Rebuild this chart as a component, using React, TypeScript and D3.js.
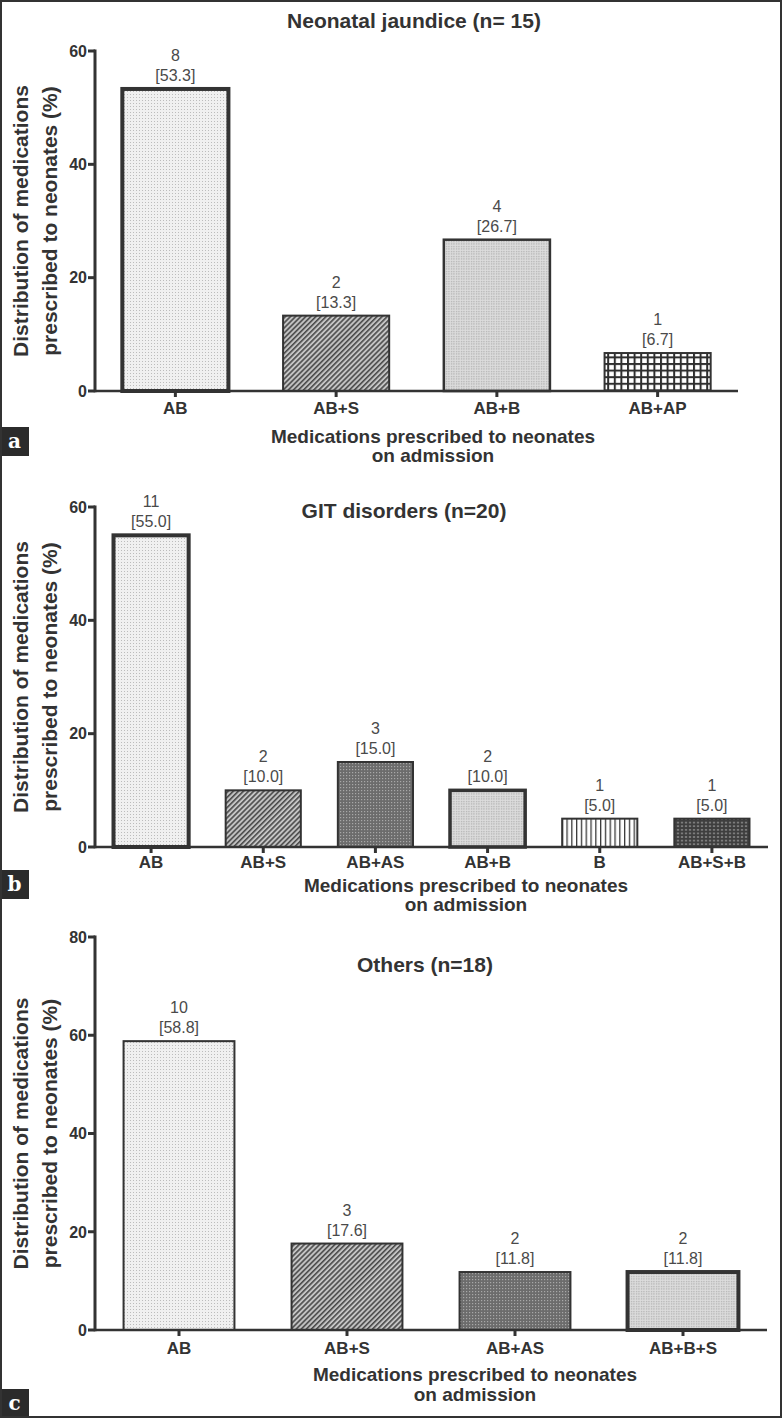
import React from "react";
import * as d3 from "d3";

// ---------- DATA ----------
const jaundiceCategories = ["AB", "AB+S", "AB+B", "AB+AP"];
const jaundicePercent = [53.3, 13.3, 26.7, 6.7];
const jaundiceCounts = [8, 2, 4, 1];

const gitCategories = ["AB", "AB+S", "AB+AS", "AB+B", "B", "AB+S+B"];
const gitPercent = [55.0, 10.0, 15.0, 10.0, 5.0, 5.0];
const gitCounts = [11, 2, 3, 2, 1, 1];

const othersCategories = ["AB", "AB+S", "AB+AS", "AB+B+S"];
const othersPercent = [58.8, 17.6, 11.8, 11.8];
const othersCounts = [10, 3, 2, 2];

const ticks60 = [0, 20, 40, 60];
const ticks80 = [0, 20, 40, 60, 80];

const panelTitles = ["Neonatal jaundice (n= 15)", "GIT disorders (n=20)", "Others (n=18)"];
const panelLetters = ["a", "b", "c"];
const yTitleLines = ["Distribution of medications", "prescribed to neonates (%)"];
const xTitleLines = ["Medications prescribed to neonates", "on admission"];

// ---------- LAYOUT / STYLE ----------
const W = 782;
const H = 1418;
const FONT = "'Liberation Sans', Arial, Helvetica, sans-serif";
const INK = "#333";

type Layout = {
  y0: number; yTop: number; yMax: number; x0: number; x1: number; pad: number;
  titleX: number; titleY: number; xTitleX: number; xTitleY1: number; xTitleY2: number;
  tickLabelY: number; boxY: number; fills: string[]; strokes: number[];
};

const layouts: Layout[] = [
  { y0: 391, yTop: 51, yMax: 60, x0: 95, x1: 738, pad: 0.34, titleX: 414, titleY: 28,
    xTitleX: 433, xTitleY1: 443, xTitleY2: 462, tickLabelY: 414, boxY: 427,
    fills: ["dotsLight", "hatch", "dotsMed", "grid"], strokes: [4, 2, 2.5, 2] },
  { y0: 847, yTop: 507, yMax: 60, x0: 95, x1: 768, pad: 0.33, titleX: 404, titleY: 518,
    xTitleX: 466, xTitleY1: 892, xTitleY2: 911, tickLabelY: 868, boxY: 870,
    fills: ["dotsLight", "hatch", "darkDots", "dotsMed", "vlines", "darkWave"], strokes: [4, 2, 2, 3.5, 2, 2] },
  { y0: 1330, yTop: 937, yMax: 80, x0: 95, x1: 767, pad: 0.34, titleX: 425, titleY: 972,
    xTitleX: 475, xTitleY1: 1381, xTitleY2: 1401, tickLabelY: 1354, boxY: 1389,
    fills: ["dotsLight", "hatch", "darkDots", "dotsMed"], strokes: [2, 2, 2, 4] },
];

function Patterns() {
  return (
    <defs>
      <pattern id="dotsLight" width="3" height="3" patternUnits="userSpaceOnUse">
        <rect width="3" height="3" fill="#f0f0f0" />
        <rect x="1" y="1" width="1" height="1" fill="#bcbcbc" />
      </pattern>
      <pattern id="hatch" width="3.6" height="3.6" patternUnits="userSpaceOnUse" patternTransform="rotate(45)">
        <rect width="3.6" height="3.6" fill="#c4c4c4" />
        <rect width="1.6" height="3.6" fill="#4a4a4a" />
      </pattern>
      <pattern id="dotsMed" width="2.5" height="2.5" patternUnits="userSpaceOnUse">
        <rect width="2.5" height="2.5" fill="#dcdcdc" />
        <rect x="1" y="1" width="1" height="1" fill="#969696" />
      </pattern>
      <pattern id="grid" width="6.6" height="6.6" patternUnits="userSpaceOnUse">
        <rect width="6.6" height="6.6" fill="#2e2e2e" />
        <rect x="2" y="2" width="4.6" height="4.6" fill="#ffffff" />
      </pattern>
      <pattern id="darkDots" width="3" height="3" patternUnits="userSpaceOnUse">
        <rect width="3" height="3" fill="#6c6c6c" />
        <rect x="1" y="1" width="1.2" height="1.2" fill="#a8a8a8" />
      </pattern>
      <pattern id="vlines" width="4.8" height="10" patternUnits="userSpaceOnUse">
        <rect width="4.8" height="10" fill="#ffffff" />
        <rect x="0" width="1.3" height="10" fill="#3a3a3a" />
      </pattern>
      <pattern id="darkWave" width="4" height="3.6" patternUnits="userSpaceOnUse">
        <rect width="4" height="3.6" fill="#3e3e3e" />
        <ellipse cx="2" cy="1.8" rx="1.3" ry="0.7" fill="#a0a0a0" />
      </pattern>
    </defs>
  );
}

function Panel({ L, cats, vals, counts, ticks, title, letter }: {
  L: Layout; cats: string[]; vals: number[]; counts: number[]; ticks: number[]; title: string; letter: string;
}) {
  const x = d3.scaleBand<string>().domain(cats).range([L.x0, L.x1]).paddingInner(L.pad).paddingOuter(L.pad / 2);
  const y = d3.scaleLinear().domain([0, L.yMax]).range([L.y0, L.yTop]);
  const yMid = (L.y0 + L.yTop) / 2;
  return (
    <g>
      <text x={L.titleX} y={L.titleY} textAnchor="middle" fontFamily={FONT} fontWeight="bold" fontSize={21} fill={INK}>
        {title}
      </text>
      {cats.map((c, i) => {
        const bx = x(c) as number;
        const top = y(vals[i]);
        const cx = bx + x.bandwidth() / 2;
        return (
          <g key={c}>
            <rect x={bx} y={top} width={x.bandwidth()} height={L.y0 - top}
              fill={`url(#${L.fills[i]})`} stroke={INK} strokeWidth={L.strokes[i]} />
            <text x={cx} y={top - 28} textAnchor="middle" fontFamily={FONT} fontSize={16} fill="#4a4a4a">
              {counts[i]}
            </text>
            <text x={cx} y={top - 8} textAnchor="middle" fontFamily={FONT} fontSize={16} fill="#4a4a4a">
              {`[${vals[i].toFixed(1)}]`}
            </text>
            <line x1={cx} x2={cx} y1={L.y0} y2={L.y0 + 6} stroke={INK} strokeWidth={3} />
            <text x={cx} y={L.tickLabelY} textAnchor="middle" fontFamily={FONT} fontWeight="bold" fontSize={17} fill={INK}>
              {c}
            </text>
          </g>
        );
      })}
      <line x1={L.x0} x2={L.x1} y1={L.y0} y2={L.y0} stroke={INK} strokeWidth={2.5} />
      <line x1={L.x0} x2={L.x0} y1={L.y0 + 1.25} y2={L.yTop - 1.5} stroke={INK} strokeWidth={3} />
      {ticks.map((t) => (
        <g key={t}>
          <line x1={L.x0 - 7} x2={L.x0} y1={y(t)} y2={y(t)} stroke={INK} strokeWidth={3} />
          <text x={L.x0 - 8} y={y(t)} dy="0.36em" textAnchor="end" fontFamily={FONT} fontWeight="bold" fontSize={16} fill={INK}>
            {t}
          </text>
        </g>
      ))}
      <text transform={`translate(28,${yMid}) rotate(-90)`} textAnchor="middle" fontFamily={FONT} fontWeight="bold" fontSize={21} fill={INK}>
        {yTitleLines[0]}
      </text>
      <text transform={`translate(57,${yMid}) rotate(-90)`} textAnchor="middle" fontFamily={FONT} fontWeight="bold" fontSize={21} fill={INK}>
        {yTitleLines[1]}
      </text>
      <text x={L.xTitleX} y={L.xTitleY1} textAnchor="middle" fontFamily={FONT} fontWeight="bold" fontSize={19} fill={INK}>
        {xTitleLines[0]}
      </text>
      <text x={L.xTitleX} y={L.xTitleY2} textAnchor="middle" fontFamily={FONT} fontWeight="bold" fontSize={19} fill={INK}>
        {xTitleLines[1]}
      </text>
      <rect x={0} y={L.boxY} width={29} height={29} fill="#2b2b2b" />
      <text x={14.5} y={L.boxY + 21} textAnchor="middle" fontFamily="'DejaVu Serif', 'Liberation Serif', serif" fontWeight="bold" fontSize={20} fill="#fff">
        {letter}
      </text>
    </g>
  );
}

export default function App() {
  return (
    <svg width={W} height={H} viewBox={`0 0 ${W} ${H}`} style={{ position: "absolute", left: 0, top: 0, background: "#fff" }}>
      <Patterns />
      <rect x={0} y={0} width={W} height={H} fill="#fff" />
      <Panel L={layouts[0]} cats={jaundiceCategories} vals={jaundicePercent} counts={jaundiceCounts} ticks={ticks60} title={panelTitles[0]} letter={panelLetters[0]} />
      <Panel L={layouts[1]} cats={gitCategories} vals={gitPercent} counts={gitCounts} ticks={ticks60} title={panelTitles[1]} letter={panelLetters[1]} />
      <Panel L={layouts[2]} cats={othersCategories} vals={othersPercent} counts={othersCounts} ticks={ticks80} title={panelTitles[2]} letter={panelLetters[2]} />
      <rect x={1} y={1} width={W - 2} height={H - 2} fill="none" stroke="#333" strokeWidth={2} />
    </svg>
  );
}
